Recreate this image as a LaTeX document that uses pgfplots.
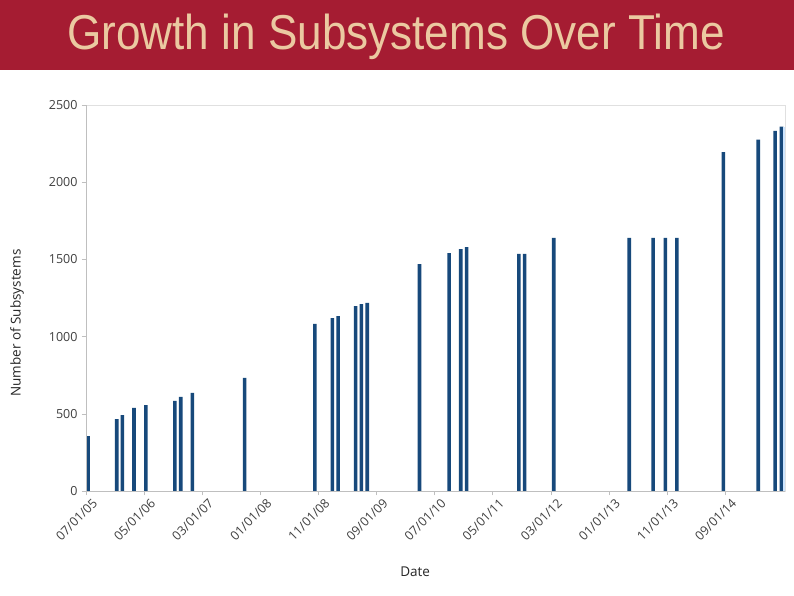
\documentclass[border=0pt]{standalone}
\usepackage{fontspec}
\setmainfont{Open Sans}
\newfontfamily\titlefont{Liberation Sans}
\usepackage{pgfplots}
\usepackage{pgfplotstable}
\pgfplotsset{compat=1.18}
\definecolor{titlered}{HTML}{A51C32}
\definecolor{titletext}{HTML}{EBC9A1}
\definecolor{barblue}{HTML}{17497B}
\definecolor{axisgray}{HTML}{BFBFBF}
\definecolor{labelgray}{HTML}{404040}

% x = months since 07/01/05, y = number of subsystems
\pgfplotstableread{
x      y
0.34   356
5.3    466
6.25   492
8.26   538
10.3   557
15.3   583
16.3   609
18.3   635
27.3   732
39.4   1082
42.4   1120
43.4   1133
46.4   1198
47.4   1211
48.4   1218
57.4   1470
62.5   1541
64.5   1567
65.5   1580
74.5   1535
75.5   1535
80.5   1640
93.5   1640
97.6   1640
99.7   1640
101.7  1640
109.7  2195
115.7  2276
118.6  2332
119.7  2360
}\subsys

\begin{document}
\begin{tikzpicture}
\fill[white] (0pt,0pt) rectangle (794pt,595pt);
\fill[titlered] (0pt,525pt) rectangle (794pt,595pt);
\node[anchor=base, text=titletext, inner sep=0pt, xscale=0.9,
  font=\titlefont\fontsize{49}{55}\selectfont] at (396pt,545pt)
  {Growth in Subsystems Over Time};

\begin{axis}[
  at={(86pt,104pt)}, anchor=south west,
  scale only axis, width=699pt, height=386pt,
  xmin=0, xmax=120.3, ymin=0, ymax=2500,
  axis line style={draw=black!12},
  ybar, bar width=3.6pt, bar shift=0pt,
  ytick={0,500,...,2500},
  xtick={0,10,...,110},
  xticklabels={07/01/05,05/01/06,03/01/07,01/01/08,11/01/08,09/01/09,
    07/01/10,05/01/11,03/01/12,01/01/13,11/01/13,09/01/14},
  xtick pos=bottom, ytick pos=left,
  tick align=outside, major tick length=4pt,
  tick style={draw=axisgray, line width=0.6pt},
  /pgf/number format/assume math mode=true,
  /pgf/number format/1000 sep={},
  yticklabel style={font=\fontsize{12.5}{14}\selectfont, text=labelgray, xshift=-1pt},
  xticklabel style={font=\fontsize{12.5}{14}\selectfont, text=labelgray,
    rotate=45, anchor=north east, inner sep=1pt, xshift=3pt, yshift=-5pt},
  ylabel={Number of Subsystems},
  xlabel={Date},
  every axis y label/.style={at={(rel axis cs:0,0.435)}, xshift=-69pt,
    rotate=90, anchor=center, font=\fontsize{13.5}{15}\selectfont, text=black!85},
  every axis x label/.style={at={(rel axis cs:0.471,0)}, yshift=-81pt,
    anchor=center, font=\fontsize{13.5}{15}\selectfont, text=black!85},
]
\addplot[draw=none, fill=barblue] table[x=x, y=y] {\subsys};
\addplot[draw=none, fill=blue!50!cyan!20, bar width=2.4pt] coordinates {(120.15,2360)};
\draw[axisgray, line width=0.6pt] (rel axis cs:0,0) -- (rel axis cs:0,1);
\draw[axisgray, line width=0.6pt] (rel axis cs:0,0) -- (rel axis cs:1,0);
\end{axis}
\pgfresetboundingbox
\path (0pt,0pt) rectangle (794pt,595pt);
\end{tikzpicture}
\end{document}
